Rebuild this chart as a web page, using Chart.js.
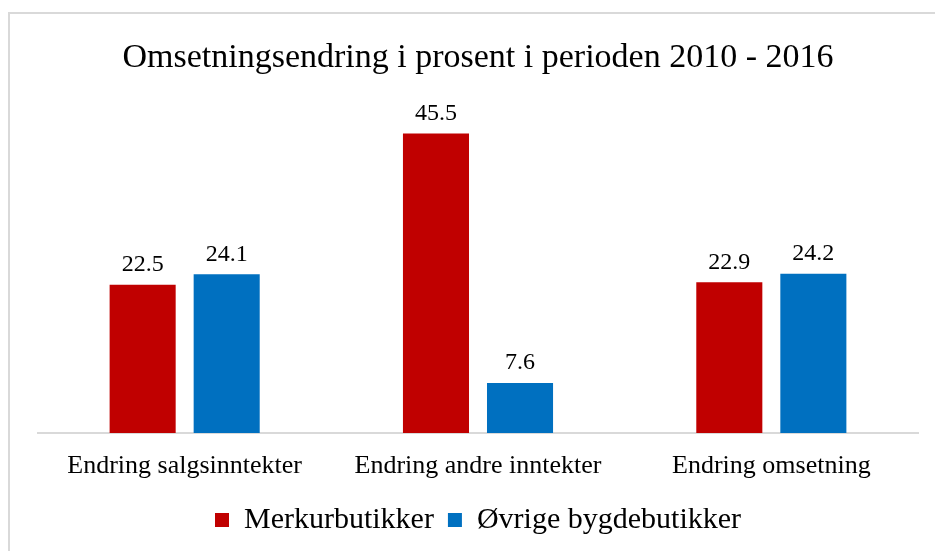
<!DOCTYPE html>
<html lang="no">
<head>
<meta charset="utf-8">
<title>Omsetningsendring</title>
<script src="https://cdn.jsdelivr.net/npm/chart.js@4/dist/chart.umd.min.js"></script>
<style>
  html, body { margin: 0; padding: 0; background: #fff; }
  #wrap {
    position: relative;
    width: 935px;
    height: 551px;
    overflow: hidden;
  }
  #frame {
    position: absolute;
    left: 8px;
    top: 12px;
    right: -10px;
    bottom: -10px;
    border-top: 2px solid #d9d9d9;
    border-left: 2px solid #d9d9d9;
    pointer-events: none;
  }
  canvas { position: absolute; left: 0; top: 0; }
</style>
</head>
<body>
<div id="wrap">
  <canvas id="chart" width="935" height="551"></canvas>
  <div id="frame"></div>
</div>
<script>
const kategorier = ['Endring salgsinntekter', 'Endring andre inntekter', 'Endring omsetning'];
const merkur = [22.5, 45.5, 22.9];
const ovrige = [24.1, 7.6, 24.2];
const serieNavn = ['Merkurbutikker', 'Øvrige bygdebutikker'];
const tittel = 'Omsetningsendring i prosent i perioden 2010 - 2016';

const FONT = "'Liberation Serif', 'Times New Roman', serif";

// Value labels drawn above each bar
const verdiEtiketter = {
  id: 'verdiEtiketter',
  afterDatasetsDraw(chart) {
    const ctx = chart.ctx;
    ctx.save();
    ctx.font = '24px ' + FONT;
    ctx.fillStyle = '#000';
    ctx.textAlign = 'center';
    ctx.textBaseline = 'bottom';
    chart.data.datasets.forEach((ds, i) => {
      chart.getDatasetMeta(i).data.forEach((bar, j) => {
        ctx.fillText(ds.data[j].toFixed(1), bar.x, bar.y - 8);
      });
    });
    ctx.restore();
  }
};

new Chart(document.getElementById('chart'), {
  type: 'bar',
  data: {
    labels: kategorier,
    datasets: [
      { label: serieNavn[0], data: merkur, backgroundColor: '#c00000' },
      { label: serieNavn[1], data: ovrige, backgroundColor: '#0070c0' }
    ]
  },
  options: {
    responsive: false,
    animation: false,
    categoryPercentage: 0.573,
    barPercentage: 0.786,
    layout: { padding: { left: 38, right: 17, top: 0, bottom: 6 } },
    scales: {
      y: { display: false, min: 0, max: 50 },
      x: {
        grid: { display: false },
        border: { display: true, color: '#d9d9d9', width: 2 },
        ticks: {
          color: '#000',
          padding: 9.4,
          font: { family: FONT, size: 26 }
        }
      }
    },
    plugins: {
      tooltip: { enabled: false },
      title: {
        display: true,
        text: tittel,
        color: '#000',
        font: { family: FONT, size: 34, weight: 'normal' },
        padding: { top: 38, bottom: 25 }
      },
      legend: {
        position: 'bottom',
        labels: {
          color: '#000',
          boxWidth: 14,
          boxHeight: 14,
          padding: 14,
          font: { family: FONT, size: 30 }
        }
      }
    }
  },
  plugins: [verdiEtiketter]
});
</script>
</body>
</html>
